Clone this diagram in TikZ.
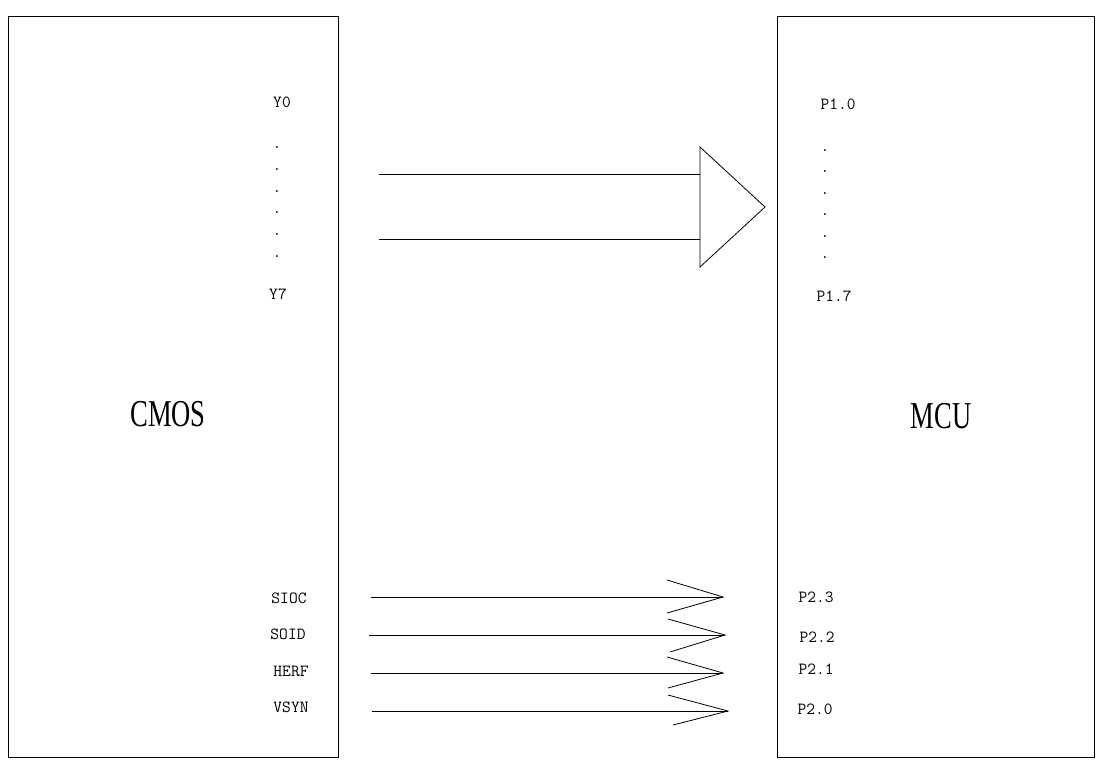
\documentclass[tikz,border=0pt]{standalone}
\usepackage{fontspec}
\newfontfamily\chipfont[FakeStretch=0.7]{Liberation Serif}
\begin{document}
\begin{tikzpicture}[x=1pt,y=-1pt,line width=0.8pt,
    chipbox/.style={draw,minimum width=#1,minimum height=741pt,inner sep=0},
    chipname/.style={font=\chipfont\fontsize{38}{38}\selectfont,inner sep=0},
    pin/.style={font=\ttfamily\fontsize{17}{17}\selectfont,inner sep=0}]
        \useasboundingbox (0,0) rectangle (1105,772);

        % Chips
        \node[chipbox=330pt] (cmos) at (173,386.5) {};
        \node[chipbox=317pt] (mcu) at (935.5,386.5) {};
        \node[chipname] (cmosname) at (168,414) {CMOS};
        \node[chipname] (mcuname) at (941,416) {MCU};

        % Data pins
        \node[pin] (y0) at (282,102) {Y0};
        \node[pin] (y7) at (278,294) {Y7};
        \node[pin] (p10) at (838,104) {P1.0};
        \node[pin] (p17) at (834,296) {P1.7};
        \foreach \i/\yl/\yr in {1/148/151,2/170/172,3/192/194,4/213/215,5/235/237,6/257/258} {
            \node[pin] (ldot\i) at (277,\yl) {.};
            \node[pin] (rdot\i) at (825,\yr) {.};
        }

        % Data bus arrow
        \coordinate (busa) at (379,174);
        \coordinate (busb) at (379,239);
        \coordinate (heada) at (700,174);
        \coordinate (headb) at (700,239);
        \coordinate (headtop) at (700,147);
        \coordinate (headbot) at (700,267);
        \coordinate (headtip) at (765,207);
        \draw (busa) -- (heada);
        \draw (busb) -- (headb);
        \draw (headtop) -- (headtip) -- (headbot) -- cycle;

        % Control pins
        \node[pin] (sioc) at (289,598) {SIOC};
        \node[pin] (soid) at (288,634) {SOID};
        \node[pin] (herf) at (291,671) {HERF};
        \node[pin] (vsyn) at (291,707) {VSYN};
        \node[pin] (p23) at (816,597) {P2.3};
        \node[pin] (p22) at (817,637) {P2.2};
        \node[pin] (p21) at (816,669) {P2.1};
        \node[pin] (p20) at (815,709) {P2.0};

        % Control lines
        \foreach \i/\y/\xs/\xt/\xu/\yu/\xl/\yl in {3/597/371/723/667/580/667/613,
                2/635/369/725/668/619/670/652,
                1/673/371/723/667/657/668/688,
                0/711/372/728/668/695/673/725} {
            \coordinate (sig\i) at (\xs,\y);
            \coordinate (tip\i) at (\xt,\y);
            \coordinate (up\i) at (\xu,\yu);
            \coordinate (lo\i) at (\xl,\yl);
            \draw (sig\i) -- (tip\i);
            \draw (up\i) -- (tip\i) -- (lo\i);
        }
\end{tikzpicture}
\end{document}
